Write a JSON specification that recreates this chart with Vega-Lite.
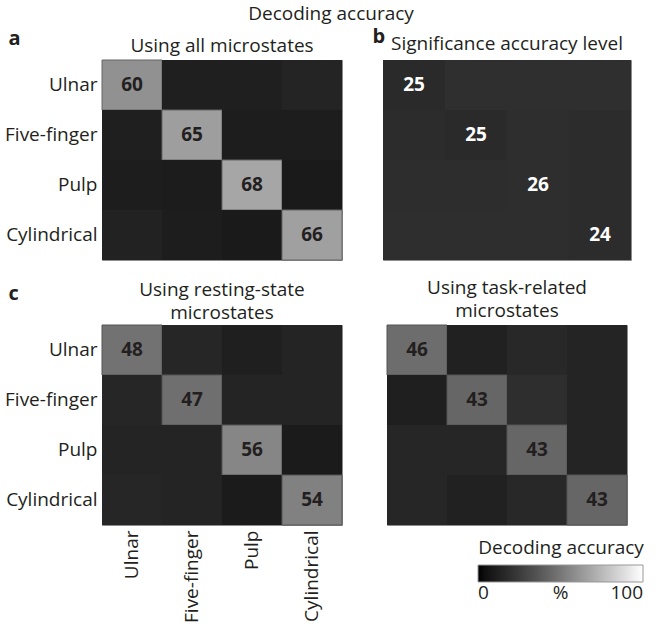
{
  "$schema": "https://vega.github.io/schema/vega-lite/v6.json",
  "padding": {"left": 4, "top": 4, "right": 0, "bottom": 0},
  "background": "white",
  "title": {"text": "Decoding accuracy", "fontSize": 19, "fontWeight": "normal", "font": "Open Sans", "color": "#231f20", "anchor": "middle", "offset": 2, "dx": 7},
  "datasets": {
    "cm": [
      {"panel": "a", "row": "Ulnar", "col": "Ulnar", "shade": 60, "label": "60"},
      {"panel": "a", "row": "Ulnar", "col": "Five-finger", "shade": 12},
      {"panel": "a", "row": "Ulnar", "col": "Pulp", "shade": 12},
      {"panel": "a", "row": "Ulnar", "col": "Cylindrical", "shade": 14},
      {"panel": "a", "row": "Five-finger", "col": "Ulnar", "shade": 12},
      {"panel": "a", "row": "Five-finger", "col": "Five-finger", "shade": 65, "label": "65"},
      {"panel": "a", "row": "Five-finger", "col": "Pulp", "shade": 11},
      {"panel": "a", "row": "Five-finger", "col": "Cylindrical", "shade": 11},
      {"panel": "a", "row": "Pulp", "col": "Ulnar", "shade": 11},
      {"panel": "a", "row": "Pulp", "col": "Five-finger", "shade": 10.5},
      {"panel": "a", "row": "Pulp", "col": "Pulp", "shade": 68, "label": "68"},
      {"panel": "a", "row": "Pulp", "col": "Cylindrical", "shade": 9.5},
      {"panel": "a", "row": "Cylindrical", "col": "Ulnar", "shade": 13},
      {"panel": "a", "row": "Cylindrical", "col": "Five-finger", "shade": 11},
      {"panel": "a", "row": "Cylindrical", "col": "Pulp", "shade": 9.5},
      {"panel": "a", "row": "Cylindrical", "col": "Cylindrical", "shade": 66, "label": "66"},

      {"panel": "b", "row": "Ulnar", "col": "Ulnar", "shade": 17, "label": "25"},
      {"panel": "b", "row": "Ulnar", "col": "Five-finger", "shade": 19.6},
      {"panel": "b", "row": "Ulnar", "col": "Pulp", "shade": 19.6},
      {"panel": "b", "row": "Ulnar", "col": "Cylindrical", "shade": 19.6},
      {"panel": "b", "row": "Five-finger", "col": "Ulnar", "shade": 18},
      {"panel": "b", "row": "Five-finger", "col": "Five-finger", "shade": 17, "label": "25"},
      {"panel": "b", "row": "Five-finger", "col": "Pulp", "shade": 18.8},
      {"panel": "b", "row": "Five-finger", "col": "Cylindrical", "shade": 18},
      {"panel": "b", "row": "Pulp", "col": "Ulnar", "shade": 18.4},
      {"panel": "b", "row": "Pulp", "col": "Five-finger", "shade": 18.4},
      {"panel": "b", "row": "Pulp", "col": "Pulp", "shade": 18.8, "label": "26"},
      {"panel": "b", "row": "Pulp", "col": "Cylindrical", "shade": 18},
      {"panel": "b", "row": "Cylindrical", "col": "Ulnar", "shade": 18.8},
      {"panel": "b", "row": "Cylindrical", "col": "Five-finger", "shade": 18.8},
      {"panel": "b", "row": "Cylindrical", "col": "Pulp", "shade": 18.8},
      {"panel": "b", "row": "Cylindrical", "col": "Cylindrical", "shade": 18, "label": "24"},

      {"panel": "c", "row": "Ulnar", "col": "Ulnar", "shade": 48, "label": "48"},
      {"panel": "c", "row": "Ulnar", "col": "Five-finger", "shade": 15},
      {"panel": "c", "row": "Ulnar", "col": "Pulp", "shade": 12},
      {"panel": "c", "row": "Ulnar", "col": "Cylindrical", "shade": 14},
      {"panel": "c", "row": "Five-finger", "col": "Ulnar", "shade": 15},
      {"panel": "c", "row": "Five-finger", "col": "Five-finger", "shade": 47, "label": "47"},
      {"panel": "c", "row": "Five-finger", "col": "Pulp", "shade": 14},
      {"panel": "c", "row": "Five-finger", "col": "Cylindrical", "shade": 14},
      {"panel": "c", "row": "Pulp", "col": "Ulnar", "shade": 14},
      {"panel": "c", "row": "Pulp", "col": "Five-finger", "shade": 14},
      {"panel": "c", "row": "Pulp", "col": "Pulp", "shade": 56, "label": "56"},
      {"panel": "c", "row": "Pulp", "col": "Cylindrical", "shade": 10},
      {"panel": "c", "row": "Cylindrical", "col": "Ulnar", "shade": 15},
      {"panel": "c", "row": "Cylindrical", "col": "Five-finger", "shade": 14},
      {"panel": "c", "row": "Cylindrical", "col": "Pulp", "shade": 10},
      {"panel": "c", "row": "Cylindrical", "col": "Cylindrical", "shade": 54, "label": "54"},

      {"panel": "d", "row": "Ulnar", "col": "Ulnar", "shade": 46, "label": "46"},
      {"panel": "d", "row": "Ulnar", "col": "Five-finger", "shade": 12.5},
      {"panel": "d", "row": "Ulnar", "col": "Pulp", "shade": 16},
      {"panel": "d", "row": "Ulnar", "col": "Cylindrical", "shade": 14},
      {"panel": "d", "row": "Five-finger", "col": "Ulnar", "shade": 12},
      {"panel": "d", "row": "Five-finger", "col": "Five-finger", "shade": 43, "label": "43"},
      {"panel": "d", "row": "Five-finger", "col": "Pulp", "shade": 19},
      {"panel": "d", "row": "Five-finger", "col": "Cylindrical", "shade": 14},
      {"panel": "d", "row": "Pulp", "col": "Ulnar", "shade": 15},
      {"panel": "d", "row": "Pulp", "col": "Five-finger", "shade": 15},
      {"panel": "d", "row": "Pulp", "col": "Pulp", "shade": 43, "label": "43"},
      {"panel": "d", "row": "Pulp", "col": "Cylindrical", "shade": 14},
      {"panel": "d", "row": "Cylindrical", "col": "Ulnar", "shade": 15},
      {"panel": "d", "row": "Cylindrical", "col": "Five-finger", "shade": 12.5},
      {"panel": "d", "row": "Cylindrical", "col": "Pulp", "shade": 16},
      {"panel": "d", "row": "Cylindrical", "col": "Cylindrical", "shade": 43, "label": "43"}
    ]
  },
  "resolve": {"scale": {"color": "shared"}, "legend": {"color": "shared"}},
  "vconcat": [
    {
      "spacing": 28,
      "hconcat": [
        {
          "width": 240, "height": 200,
          "title": {"text": "Using all microstates", "frame": "group", "anchor": "middle", "offset": -28},
          "data": {"name": "cm"},
          "transform": [{"filter": "datum.panel == 'a'"}],
          "encoding": {
            "x": {"field": "col", "type": "nominal", "sort": ["Ulnar", "Five-finger", "Pulp", "Cylindrical"], "scale": {"paddingInner": 0, "paddingOuter": 0}, "axis": null},
            "y": {"field": "row", "type": "nominal", "sort": ["Ulnar", "Five-finger", "Pulp", "Cylindrical"], "scale": {"paddingInner": 0, "paddingOuter": 0},
                  "axis": {"title": "a", "titleAngle": 0, "titleX": -94, "titleY": -16, "titleAlign": "left", "titleBaseline": "alphabetic", "titleFontWeight": "bold", "titleFontSize": 20}}
          },
          "layer": [
            {"mark": {"type": "rect", "stroke": "#666666"},
             "encoding": {
               "color": {"field": "shade", "type": "quantitative", "scale": {"domain": [0, 100], "range": ["#000000", "#ffffff"]},
                         "legend": {"orient": "none", "legendX": 376, "legendY": 479, "direction": "horizontal", "title": "Decoding accuracy", "gradientLength": 165, "gradientThickness": 17, "values": [0, 50, 100], "labelExpr": "datum.value == 50 ? '%' : datum.label", "titleAnchor": "middle"}},
               "strokeWidth": {"condition": {"test": "datum.row == datum.col", "value": 1}, "value": 0}
             }},
            {"transform": [{"filter": "isValid(datum.label)"}],
             "mark": {"type": "text", "fontWeight": "bold", "fontSize": 19, "color": "#231f20"},
             "encoding": {"text": {"field": "label"}}}
          ]
        },
        {
          "width": 248, "height": 200,
          "title": {"text": "Significance accuracy level", "frame": "group", "anchor": "middle", "offset": -28},
          "data": {"name": "cm"},
          "transform": [{"filter": "datum.panel == 'b'"}],
          "encoding": {
            "x": {"field": "col", "type": "nominal", "sort": ["Ulnar", "Five-finger", "Pulp", "Cylindrical"], "scale": {"paddingInner": 0, "paddingOuter": 0}, "axis": null},
            "y": {"field": "row", "type": "nominal", "sort": ["Ulnar", "Five-finger", "Pulp", "Cylindrical"], "scale": {"paddingInner": 0, "paddingOuter": 0},
                  "axis": {"labels": false, "ticks": false, "domain": false, "title": "b", "titleAngle": 0, "titleX": -11, "titleY": -18, "titleAlign": "left", "titleBaseline": "alphabetic", "titleFontWeight": "bold", "titleFontSize": 20}}
          },
          "layer": [
            {"mark": {"type": "rect"},
             "encoding": {
               "color": {"field": "shade", "type": "quantitative", "scale": {"domain": [0, 100], "range": ["#000000", "#ffffff"]},
                         "legend": {"orient": "none", "legendX": 376, "legendY": 479, "direction": "horizontal", "title": "Decoding accuracy", "gradientLength": 165, "gradientThickness": 17, "values": [0, 50, 100], "labelExpr": "datum.value == 50 ? '%' : datum.label", "titleAnchor": "middle"}}
             }},
            {"transform": [{"filter": "isValid(datum.label)"}],
             "mark": {"type": "text", "fontWeight": "bold", "fontSize": 19, "color": "#ffffff"},
             "encoding": {"text": {"field": "label"}}}
          ]
        }
      ]
    },
    {
      "spacing": 43,
      "hconcat": [
        {
          "width": 240, "height": 200,
          "title": {"text": ["Using resting-state", "microstates"], "frame": "group", "anchor": "middle", "offset": -40, "lineHeight": 23},
          "data": {"name": "cm"},
          "transform": [{"filter": "datum.panel == 'c'"}],
          "encoding": {
            "x": {"field": "col", "type": "nominal", "sort": ["Ulnar", "Five-finger", "Pulp", "Cylindrical"], "scale": {"paddingInner": 0, "paddingOuter": 0},
                  "axis": {"title": null, "labelAngle": 270, "ticks": false, "domain": false, "labelPadding": 5}},
            "y": {"field": "row", "type": "nominal", "sort": ["Ulnar", "Five-finger", "Pulp", "Cylindrical"], "scale": {"paddingInner": 0, "paddingOuter": 0},
                  "axis": {"title": "c", "titleAngle": 0, "titleX": -94, "titleY": -26, "titleAlign": "left", "titleBaseline": "alphabetic", "titleFontWeight": "bold", "titleFontSize": 20}}
          },
          "layer": [
            {"mark": {"type": "rect", "stroke": "#555555"},
             "encoding": {
               "color": {"field": "shade", "type": "quantitative", "scale": {"domain": [0, 100], "range": ["#000000", "#ffffff"]},
                         "legend": {"orient": "none", "legendX": 376, "legendY": 479, "direction": "horizontal", "title": "Decoding accuracy", "gradientLength": 165, "gradientThickness": 17, "values": [0, 50, 100], "labelExpr": "datum.value == 50 ? '%' : datum.label", "titleAnchor": "middle"}},
               "strokeWidth": {"condition": {"test": "datum.row == datum.col", "value": 1}, "value": 0}
             }},
            {"transform": [{"filter": "isValid(datum.label)"}],
             "mark": {"type": "text", "fontWeight": "bold", "fontSize": 19, "color": "#231f20"},
             "encoding": {"text": {"field": "label"}}}
          ]
        },
        {
          "width": 240, "height": 200,
          "title": {"text": ["Using task-related", "microstates"], "frame": "group", "anchor": "middle", "offset": 4, "lineHeight": 23},
          "data": {"name": "cm"},
          "transform": [{"filter": "datum.panel == 'd'"}],
          "encoding": {
            "x": {"field": "col", "type": "nominal", "sort": ["Ulnar", "Five-finger", "Pulp", "Cylindrical"], "scale": {"paddingInner": 0, "paddingOuter": 0}, "axis": null},
            "y": {"field": "row", "type": "nominal", "sort": ["Ulnar", "Five-finger", "Pulp", "Cylindrical"], "scale": {"paddingInner": 0, "paddingOuter": 0}, "axis": null}
          },
          "layer": [
            {"mark": {"type": "rect", "stroke": "#555555"},
             "encoding": {
               "color": {"field": "shade", "type": "quantitative", "scale": {"domain": [0, 100], "range": ["#000000", "#ffffff"]},
                         "legend": {"orient": "none", "legendX": 376, "legendY": 479, "direction": "horizontal", "title": "Decoding accuracy", "gradientLength": 165, "gradientThickness": 17, "values": [0, 50, 100], "labelExpr": "datum.value == 50 ? '%' : datum.label", "titleAnchor": "middle"}},
               "strokeWidth": {"condition": {"test": "datum.row == datum.col", "value": 1}, "value": 0}
             }},
            {"transform": [{"filter": "isValid(datum.label)"}],
             "mark": {"type": "text", "fontWeight": "bold", "fontSize": 19, "color": "#231f20"},
             "encoding": {"text": {"field": "label"}}}
          ]
        }
      ]
    }
  ],
  "spacing": 17,
  "config": {
    "font": "Open Sans",
    "view": {"stroke": "#8c8c8c", "strokeWidth": 1},
    "title": {"fontSize": 19, "fontWeight": "normal", "color": "#231f20", "font": "Open Sans"},
    "axis": {"labelFontSize": 19, "labelColor": "#231f20", "labelFont": "Open Sans", "ticks": false, "domain": false, "grid": false, "labelPadding": 5, "titleColor": "#231f20", "titleFont": "Open Sans"},
    "legend": {"titleFontSize": 19, "titleFontWeight": "normal", "titleColor": "#231f20", "titleFont": "Open Sans", "labelFontSize": 19, "labelColor": "#231f20", "labelFont": "Open Sans", "gradientStrokeColor": "#999999", "gradientStrokeWidth": 1, "titlePadding": 7, "labelOffset": 10}
  }
}
